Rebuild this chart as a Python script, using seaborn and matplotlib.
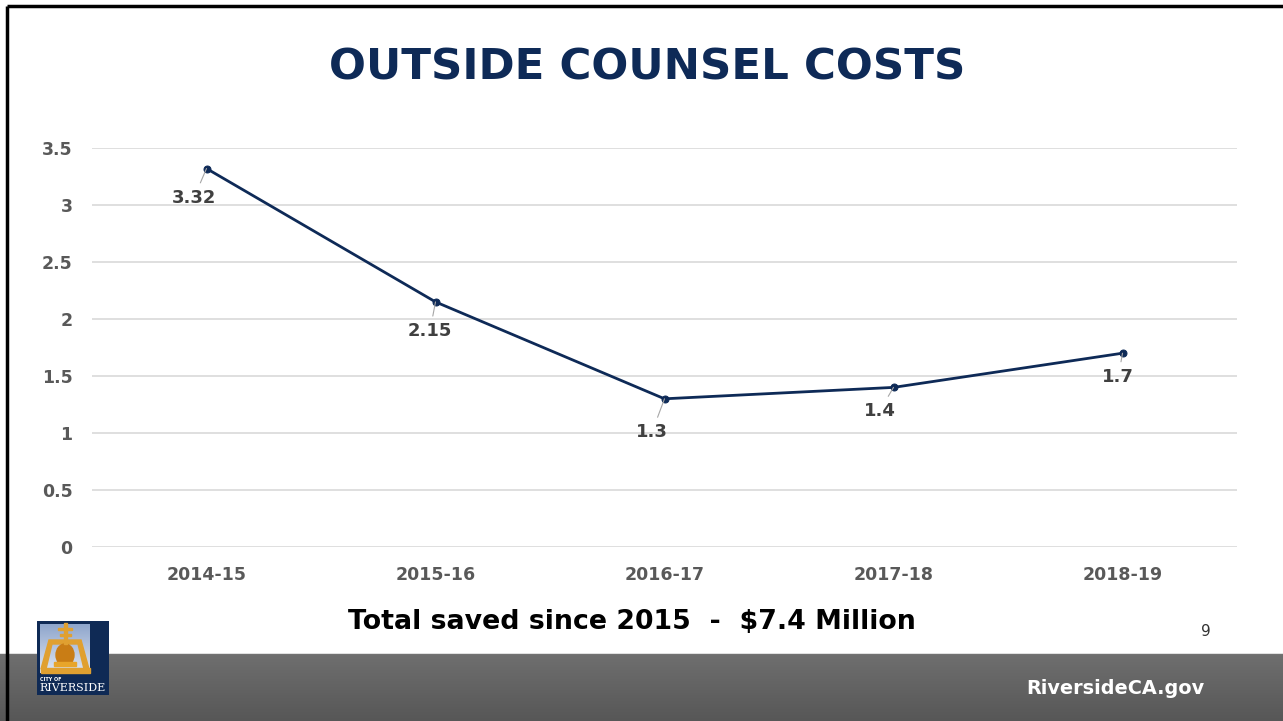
import matplotlib
matplotlib.use("Agg")
import matplotlib.pyplot as plt
import matplotlib.patches as mpatches
import numpy as np
import pandas as pd
import seaborn as sns

# data
years = ["2014-15", "2015-16", "2016-17", "2017-18", "2018-19"]
costs = [3.32, 2.15, 1.3, 1.4, 1.7]
yticks = [0, 0.5, 1, 1.5, 2, 2.5, 3, 3.5]
ytick_labels = ["0", "0.5", "1", "1.5", "2", "2.5", "3", "3.5"]

# label offsets (points) relative to each marker
label_offsets = [(-9, -21), (-4, -21), (-9, -24), (-10, -17), (-3, -17)]

navy = "#0e2a57"
gray_txt = "#595959"

sns.set_theme(style="white")
plt.rcParams["font.family"] = ["DejaVu Sans"]

df = pd.DataFrame({"year": years, "cost": costs})

fig = plt.figure(figsize=(12.83, 7.21), dpi=100)
ax = fig.add_axes([92 / 1283, 174 / 721, 1145 / 1283, 399 / 721])

sns.lineplot(data=df, x="year", y="cost", ax=ax, color=navy, linewidth=2.0,
             marker="o", markersize=5, markeredgecolor=navy, sort=False)

ax.set_xlim(-0.5, len(years) - 0.5)
ax.set_ylim(0, 3.5)
ax.set_yticks(yticks)
ax.set_yticklabels(ytick_labels)
ax.grid(axis="y", color="#d9d9d9", linewidth=1.2)
ax.set_axisbelow(True)
for s in ax.spines.values():
    s.set_visible(False)
ax.set_xlabel("")
ax.set_ylabel("")
ax.tick_params(axis="both", length=0, labelsize=12.5, labelcolor=gray_txt)
ax.tick_params(axis="x", pad=14)
ax.tick_params(axis="y", pad=14)
for lab in ax.get_xticklabels() + ax.get_yticklabels():
    lab.set_fontweight("bold")

for i, (v, off) in enumerate(zip(costs, label_offsets)):
    ax.annotate(f"{v:g}", xy=(i, v), xytext=off, textcoords="offset points",
                ha="center", va="center", fontsize=13, fontweight="bold",
                color="#404040",
                arrowprops=dict(arrowstyle="-", color="#a6a6a6", lw=0.8,
                                shrinkA=2, shrinkB=0))

# title
fig.text(647 / 1283, 1 - 68 / 721, "OUTSIDE COUNSEL COSTS", ha="center",
         va="center", fontsize=31.3, fontweight="bold", color=navy)

# footnote
fig.text(632 / 1283, 1 - 622 / 721, "Total saved since 2015  -  $7.4 Million",
         ha="center", va="center", fontsize=19.3, fontweight="bold", color="black")
fig.text(1206 / 1283, 1 - 632 / 721, "9", ha="center", va="center",
         fontsize=11, color="#333333")

# gray footer band
band = fig.add_axes([0, 0, 1, 68 / 721])
grad = np.linspace(0, 1, 100).reshape(-1, 1)
band.imshow(grad, aspect="auto", cmap=matplotlib.colors.LinearSegmentedColormap.from_list(
    "g", ["#575757", "#6f6f6f"]), origin="lower", extent=[0, 1, 0, 1])
band.set_axis_off()
band.axhline(1, color="#e0e0e0", lw=1.5)
fig.text(1115 / 1283, 1 - 689 / 721, "RiversideCA.gov", ha="center",
         va="center", fontsize=13.9, fontweight="bold", color="white")

# simplified city logo
logo = fig.add_axes([37 / 1283, 1 - 695 / 721, 72 / 1283, 74 / 721])
logo.set_xlim(0, 72)
logo.set_ylim(0, 74)
logo.set_axis_off()
logo.add_patch(mpatches.Rectangle((0, 0), 72, 74, color="#0f2a55"))
sky = np.linspace(0, 1, 50).reshape(-1, 1)
logo.imshow(sky, aspect="auto", origin="lower", extent=[3, 53, 22, 70],
            cmap=matplotlib.colors.LinearSegmentedColormap.from_list(
                "s", ["#dfe6f2", "#8fa6cc"]), zorder=2)
gold = "#e0a030"
logo.add_patch(mpatches.Polygon([[12, 55], [44, 55], [52, 26], [47, 26], [41, 51],
                                 [15, 51], [9, 26], [4, 26]], color=gold, zorder=3))
logo.add_patch(mpatches.Rectangle((4, 22), 49, 5, color=gold, zorder=3))
logo.add_patch(mpatches.Ellipse((28, 40), 18, 22, color="#c97d15", zorder=3))
logo.add_patch(mpatches.Rectangle((17, 29), 22, 4, color="#e8a52a", zorder=3))
logo.add_patch(mpatches.Rectangle((26.5, 51), 3, 21, color=gold, zorder=3))
logo.add_patch(mpatches.Rectangle((21, 65), 14, 2.5, color=gold, zorder=3))
logo.add_patch(mpatches.Rectangle((22.5, 59), 11, 2.5, color=gold, zorder=3))
logo.set_xlim(0, 72)
logo.set_ylim(0, 74)
logo.text(3, 14, "CITY OF", fontsize=3.5, color="white", fontweight="bold")
logo.text(36, 4, "RIVERSIDE", fontsize=8, color="white", ha="center",
          family="DejaVu Serif")

# slide border (top and left)
border = fig.add_axes([0, 0, 1, 1], facecolor="none")
border.set_xlim(0, 1283)
border.set_ylim(721, 0)
border.set_axis_off()
border.plot([7, 1283], [6, 6], color="black", lw=2.5, solid_capstyle="butt")
border.plot([7, 7], [6, 721], color="black", lw=2.5, solid_capstyle="butt")

fig.savefig("out.png", dpi=100)
